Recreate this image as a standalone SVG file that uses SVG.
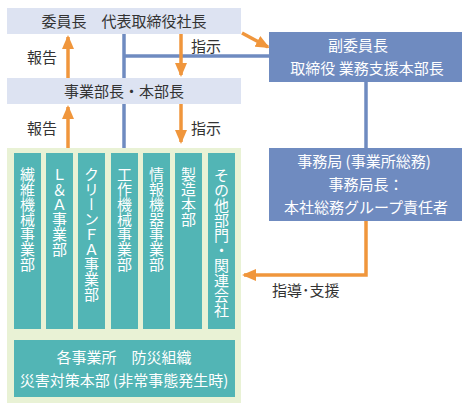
<svg xmlns="http://www.w3.org/2000/svg" width="469" height="409" viewBox="0 0 469 409">
<style>
text{font-family:"Noto Sans CJK JP","Noto Sans",sans-serif;font-size:15px}
.dk{fill:#333333}
.wt{fill:#ffffff}
.c{text-anchor:middle}
.bar{fill:#dde3f2}
.blue{fill:#6f8bc0}
.teal{fill:#52b5b5}
.bl{stroke:#6f8bc0;stroke-width:3.5;fill:none}
.or{stroke:#f0963c;stroke-width:3.5;fill:none}
.v{writing-mode:vertical-rl;text-orientation:upright}
</style>
<defs>
<marker id="ah" viewBox="0 0 14 12" refX="12" refY="6" markerWidth="14" markerHeight="12" markerUnits="userSpaceOnUse" orient="auto">
<path d="M0,0 L14,6 L0,12 z" fill="#f0963c"/>
</marker>
</defs>
<rect width="469" height="409" fill="#ffffff"/>
<g id="connectors">
<line class="bl" x1="124" y1="34" x2="124" y2="150"/>
<line class="bl" x1="124" y1="56" x2="269" y2="56"/>
<line class="bl" x1="366" y1="82" x2="366" y2="148"/>
<line class="or" x1="181" y1="34" x2="181" y2="75" marker-end="url(#ah)"/>
<line class="or" x1="181" y1="104" x2="181" y2="142" marker-end="url(#ah)"/>
<line class="or" x1="68" y1="78" x2="68" y2="37" marker-end="url(#ah)"/>
<line class="or" x1="68" y1="148" x2="68" y2="107" marker-end="url(#ah)"/>
<line class="or" x1="242" y1="33" x2="268" y2="47" marker-end="url(#ah)"/>
<polyline class="or" points="366,221 366,275 244,275" marker-end="url(#ah)"/>
<text class="dk" x="27" y="63">報告</text>
<text class="dk" x="27" y="134">報告</text>
<text class="dk" x="191" y="52">指示</text>
<text class="dk" x="191" y="134">指示</text>
<text class="dk" x="272" y="296">指導･支援</text>
</g>
<g id="president">
<rect class="bar" x="7" y="8" width="234" height="26"/>
<text class="dk c" x="124" y="27">委員長　代表取締役社長</text>
</g>
<g id="division-heads">
<rect class="bar" x="7" y="78" width="234" height="26"/>
<text class="dk c" x="124" y="97">事業部長・本部長</text>
</g>
<g id="vice-chair">
<rect class="blue" x="269" y="32" width="193" height="50"/>
<text class="wt c" x="358" y="51">副委員長</text>
<text class="wt c" x="367" y="74">取締役 業務支援本部長</text>
</g>
<g id="secretariat">
<rect class="blue" x="269" y="148" width="193" height="73"/>
<text class="wt c" x="364" y="167">事務局 (事業所総務)</text>
<text class="wt c" x="366" y="190">事務局長：</text>
<text class="wt c" x="366" y="213">本社総務グループ責任者</text>
</g>
<g id="business-units">
<rect x="7" y="148" width="234" height="255" fill="#e9f2d5"/>
<g id="dept-1"><rect class="teal" x="14" y="153" width="27" height="176"/><text class="wt v" x="27.5" y="167">繊維機械事業部</text></g>
<g id="dept-2"><rect class="teal" x="46" y="153" width="27" height="176"/><text class="wt v" x="59.5" y="167">Ｌ＆Ａ事業部</text></g>
<g id="dept-3"><rect class="teal" x="78" y="153" width="27" height="176"/><text class="wt v" x="91.5" y="167">クリーンＦＡ事業部</text></g>
<g id="dept-4"><rect class="teal" x="111" y="153" width="27" height="176"/><text class="wt v" x="124.5" y="167">工作機械事業部</text></g>
<g id="dept-5"><rect class="teal" x="143" y="153" width="27" height="176"/><text class="wt v" x="156.5" y="167">情報機器事業部</text></g>
<g id="dept-6"><rect class="teal" x="175" y="153" width="27" height="176"/><text class="wt v" x="188.5" y="167">製造本部</text></g>
<g id="dept-7"><rect class="teal" x="208" y="153" width="27" height="176"/><text class="wt v" x="221.5" y="168">その他部門・関連会社</text></g>
<g id="disaster-hq"><rect class="teal" x="14" y="340" width="221" height="57"/>
<text class="wt c" x="124" y="363">各事業所　防災組織</text>
<text class="wt c" x="124" y="386">災害対策本部 (非常事態発生時)</text></g>
</g>
</svg>
